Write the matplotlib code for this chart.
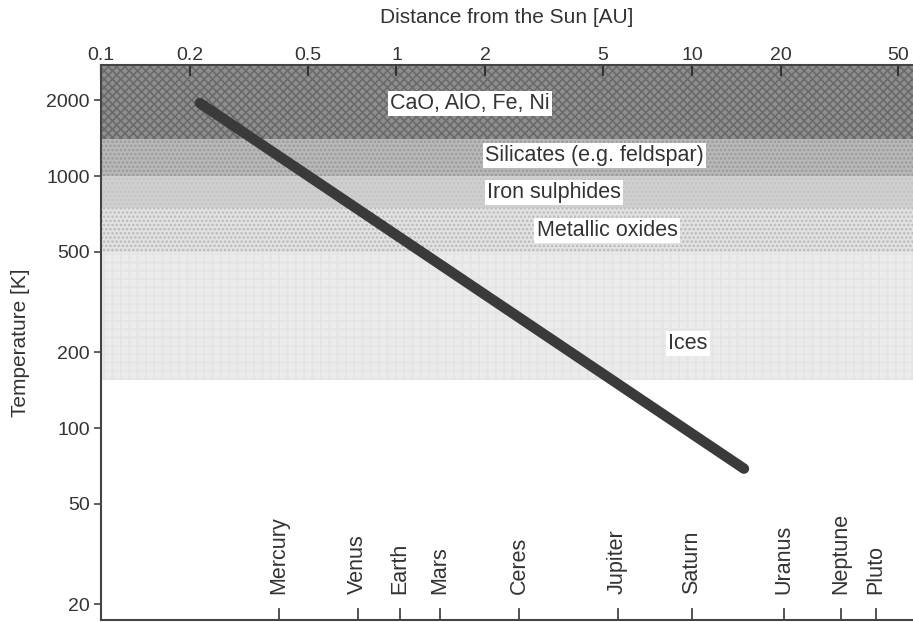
import numpy as np
import matplotlib
matplotlib.use('Agg')
import matplotlib.pyplot as plt

plt.rcParams['font.family'] = ['Liberation Sans', 'DejaVu Sans']
plt.rcParams['hatch.linewidth'] = 1.2

# condensation zones: name, lower T, upper T
zone_names = ['CaO, AlO, Fe, Ni', 'Silicates (e.g. feldspar)', 'Iron sulphides', 'Metallic oxides', 'Ices']
zone_low = [1400, 1000, 750, 500, 155]
zone_high = [2760, 1400, 1000, 750, 500]
zone_label_x = [1.77, 4.67, 3.42, 5.16, 9.7]
zone_label_y = [1945, 1210, 863, 610, 217]

# nebula temperature line (endpoints)
line_r = [0.216, 15.0]
line_T = [1950, 69]

planets = ['Mercury', 'Venus', 'Earth', 'Mars', 'Ceres', 'Jupiter', 'Saturn', 'Uranus', 'Neptune', 'Pluto']
planet_r = [0.40, 0.74, 1.03, 1.4, 2.6, 5.6, 10.0, 20.5, 32.0, 42.0]

xticks = [0.1, 0.2, 0.5, 1, 2, 5, 10, 20, 50]
xtick_labels = ['0.1', '0.2', '0.5', '1', '2', '5', '10', '20', '50']
yticks = [20, 50, 100, 200, 500, 1000, 2000]

face = ['#8e8e8e', '#b8b8b8', '#cfcfcf', '#e2e2e2', '#ebebeb']
hatchc = ['#6a6a6a', '#9a9a9a', '#c4c4c4', '#b9b9b9', '#e4e4e4']
hatches = ['xxxx', '....', '....', '....', '++']

fig = plt.figure(figsize=(9.13, 6.22), dpi=100)
ax = fig.add_axes([0.1106, 0.0032, 0.8894, 0.8923])
ax.set_xscale('log')
ax.set_yscale('log')
ax.set_xlim(0.1, 56)
ax.set_ylim(17.3, 2760)

for i in range(len(zone_names)):
    ax.axhspan(zone_low[i], zone_high[i], facecolor=face[i], edgecolor=hatchc[i],
               hatch=hatches[i], linewidth=0, zorder=1)
    ax.text(zone_label_x[i], zone_label_y[i], zone_names[i], fontsize=15.5, color='#333333',
            ha='center', va='center', zorder=4,
            bbox=dict(facecolor='white', edgecolor='none', pad=1.5))

ax.plot(line_r, line_T, color='#3a3a3a', lw=7.5, solid_capstyle='round', zorder=3)

# planet markers along the bottom
for name, r in zip(planets, planet_r):
    ax.plot([r, r], [17.3, 19.2], color='#444444', lw=1.3, zorder=2)
    ax.text(r, 22, name, rotation=90, ha='center', va='bottom', fontsize=15.5, color='#333333')

ax.xaxis.tick_top()
ax.xaxis.set_label_position('top')
ax.set_xticks(xticks)
ax.set_xticklabels(xtick_labels)
ax.xaxis.set_minor_locator(matplotlib.ticker.NullLocator())
ax.tick_params(axis='x', which='major', direction='in', length=8, width=1.5,
               color='#333333', labelsize=14, labelcolor='#333333', pad=1)
ax.set_yticks(yticks)
ax.set_yticklabels([str(t) for t in yticks])
ax.yaxis.set_minor_locator(matplotlib.ticker.NullLocator())
ax.tick_params(axis='y', which='major', direction='out', length=5, width=1.2,
               color='#444444', labelsize=14, labelcolor='#333333', pad=3)

ax.set_xlabel('Distance from the Sun [AU]', fontsize=15, color='#333333', labelpad=17)
ax.set_ylabel('Temperature [K]', fontsize=15, color='#333333', labelpad=12)

ax.spines['right'].set_visible(False)
for s in ['left', 'bottom', 'top']:
    ax.spines[s].set_color('#444444')
    ax.spines[s].set_linewidth(1.5)
for s in ax.spines.values():
    s.set_zorder(5)

fig.savefig('out.png', dpi=100)
